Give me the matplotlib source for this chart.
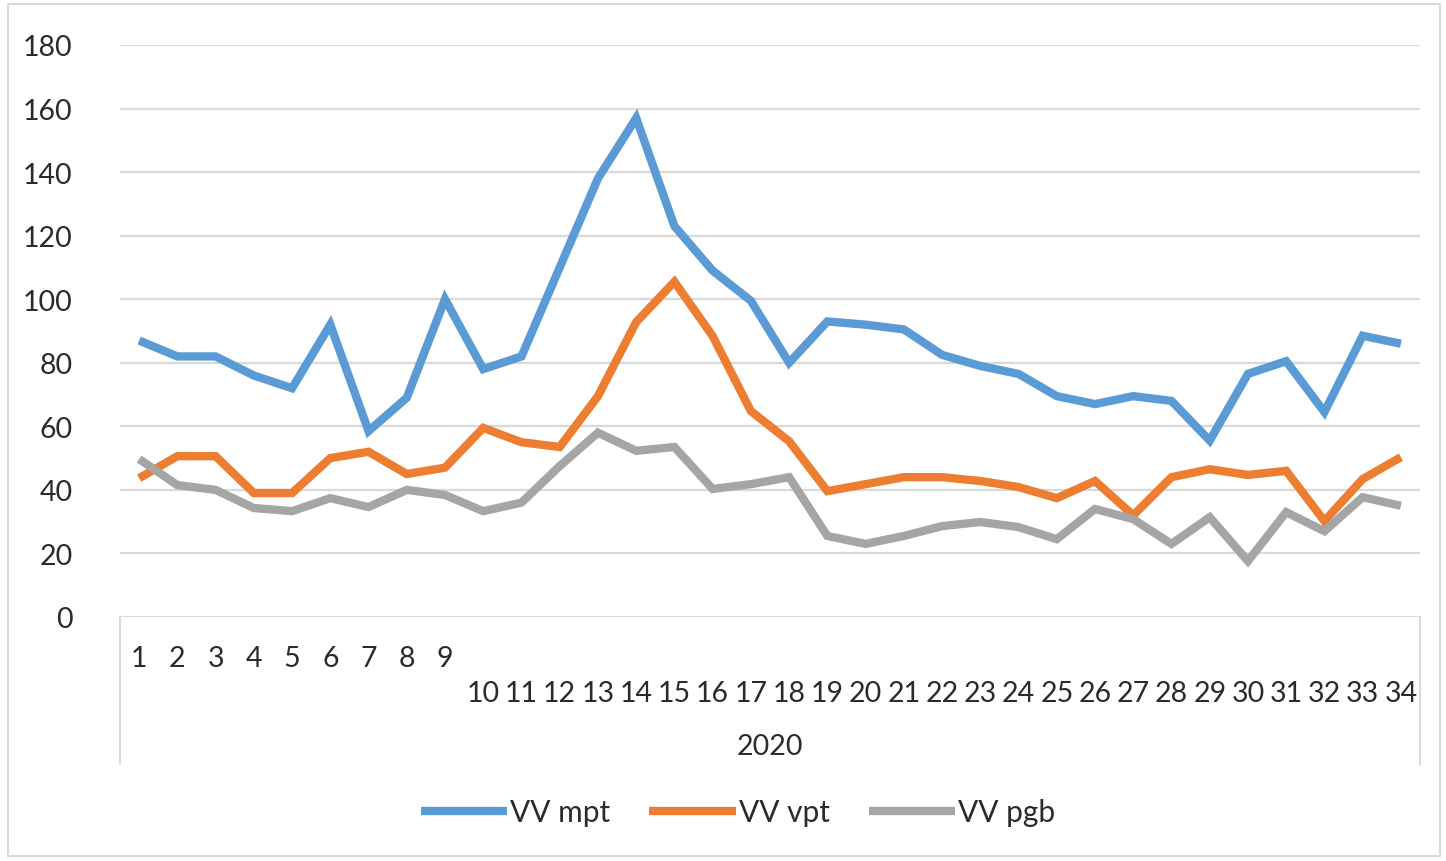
import numpy as np
import matplotlib
matplotlib.use('Agg')
import matplotlib.pyplot as plt
from matplotlib.patches import Rectangle
from matplotlib.lines import Line2D

plt.rcParams['font.family'] = ['Lato', 'DejaVu Sans']

weeks = list(range(1, 35))
year_label = '2020'

vv_mpt = [87, 82, 82, 76, 72, 92, 58.5, 69, 100, 78, 82, 110, 138, 157, 123, 109, 99.5,
          80, 93, 92, 90.5, 82.5, 79, 76.5, 69.5, 67, 69.5, 68, 55.5, 76.5, 80.5, 64.5, 88.5, 86]
vv_vpt = [43.7, 50.6, 50.6, 39, 39, 50, 52, 45, 47, 59.5, 55, 53.5, 69.5, 92.8, 105.5, 88.4,
          64.8, 55.3, 39.6, 41.8, 44, 44, 42.8, 40.9, 37.4, 42.8, 32, 44, 46.5, 44.7, 46, 30.2,
          43.4, 50.3]
vv_pgb = [49.7, 41.5, 40, 34.3, 33.3, 37.4, 34.6, 40, 38.4, 33.3, 36, 47.5, 58, 52.3, 53.5,
          40.3, 41.8, 44, 25.5, 23, 25.5, 28.6, 29.9, 28.3, 24.5, 34, 30.8, 23, 31.4, 17.6, 33,
          27, 37.7, 35]

series = [('VV mpt', vv_mpt, '#5B9BD5'),
          ('VV vpt', vv_vpt, '#ED7D31'),
          ('VV pgb', vv_pgb, '#A5A5A5')]

txt_col = '#2b2b2b'
fs = 20.5

W, H = 1446, 862
fig = plt.figure(figsize=(W / 100, H / 100), dpi=100)

# outer chart border
fig.patches.append(Rectangle((8 / W, 5 / H), (1440 - 8) / W, (857 - 5) / H,
                             transform=fig.transFigure, fill=False,
                             edgecolor='#d9d9d9', linewidth=1.5))

ax = fig.add_axes([120 / W, (H - 618) / H, 1300 / W, 572 / H])

for name, vals, col in series:
    ax.plot(weeks, vals, color=col, linewidth=6, label=name,
            solid_joinstyle='miter', solid_capstyle='butt', zorder=3)

ax.set_xlim(0.5, 34.5)
ax.set_ylim(0, 180)
ax.set_yticks(np.arange(0, 181, 20))
ax.yaxis.grid(True, color='#d9d9d9', linewidth=1.6)
ax.set_axisbelow(True)
for s in ax.spines.values():
    s.set_visible(False)

ax.set_xticks(weeks)
ax.set_xticklabels([str(w) if w < 10 else '\n' + str(w) for w in weeks])
ax.tick_params(axis='x', length=0, pad=20, labelsize=fs, labelcolor=txt_col)
ax.tick_params(axis='y', length=0, pad=34, labelsize=fs, labelcolor=txt_col)
for lab in ax.get_xticklabels():
    lab.set_linespacing(1.45)

# category group box and year label
box_bottom = -(765 - 618) / 572
for xa in (0, 1):
    ax.add_line(Line2D([xa, xa], [0, box_bottom], transform=ax.transAxes,
                       color='#d9d9d9', linewidth=1.5, clip_on=False))
ax.text(0.5, -(747 - 618) / 572, year_label, transform=ax.transAxes,
        ha='center', va='center', fontsize=fs, color=txt_col)

leg = fig.legend(loc='center', bbox_to_anchor=(738 / W, (H - 813) / H), ncol=3,
                 frameon=False, fontsize=fs + 1, handlelength=2.9, handletextpad=0.1,
                 columnspacing=1.3)
for t in leg.get_texts():
    t.set_color(txt_col)

fig.savefig('out.png', dpi=100)
